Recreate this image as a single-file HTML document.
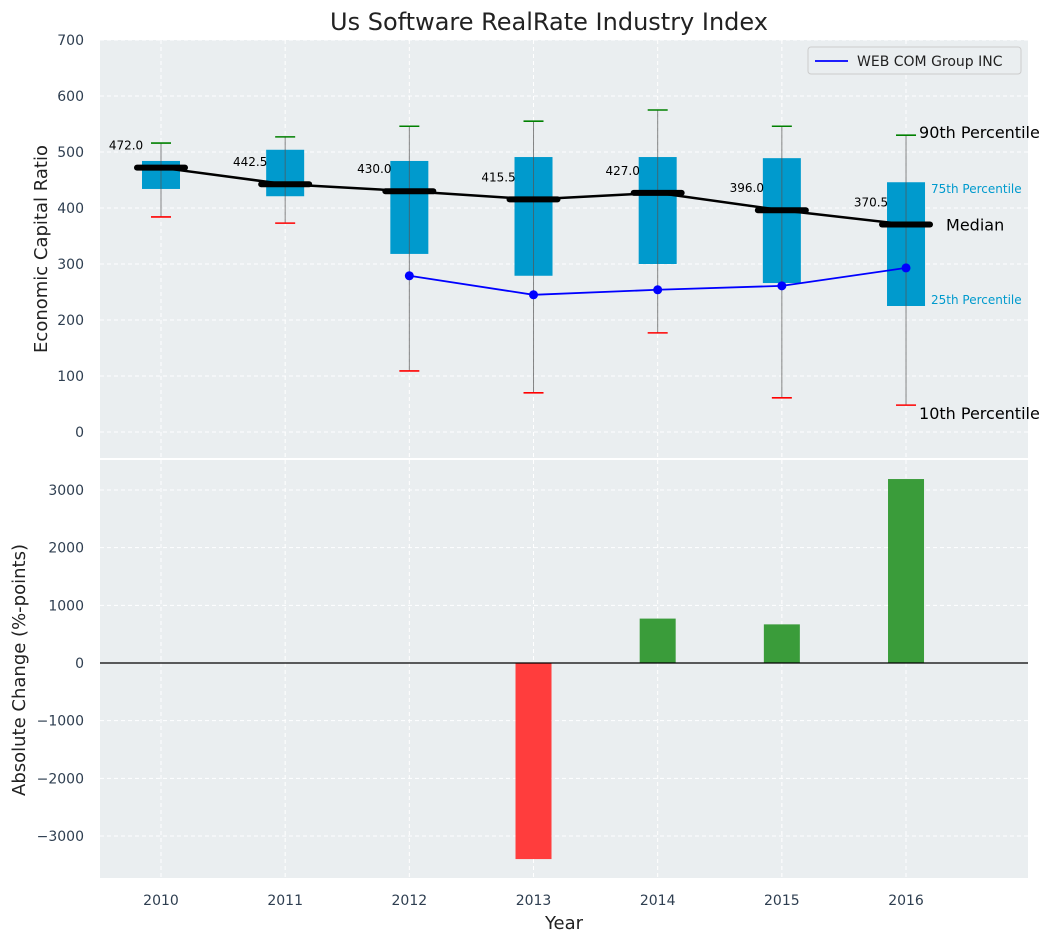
<!DOCTYPE html>
<html><head><meta charset="utf-8"><style>
body{margin:0;background:#fff;font-family:"Liberation Sans","DejaVu Sans",sans-serif}
svg text{font-family:"DejaVu Sans","Liberation Sans",sans-serif}
</style></head><body>
<svg id="c" width="1054" height="942" xmlns="http://www.w3.org/2000/svg"></svg>
<script>
const years=["2010","2011","2012","2013","2014","2015","2016"];
const p10=[384,373,109,70,177,61,48];
const p25=[434,421,318,279,300,266,225];
const median=[472.0,442.5,430.0,415.5,427.0,396.0,370.5];
const p75=[484,504,484,491,491,489,446];
const p90=[516,527,546,555,575,546,530];
const companyYears=[2,3,4,5,6];
const companyVals=[279,245,254,261,293];
const changeVals=[0,0,0,-3400,770,670,3190];
const topTicks=[0,100,200,300,400,500,600,700];
const botTicks=[-3000,-2000,-1000,0,1000,2000,3000];

const svg=document.getElementById('c');const NS='http://www.w3.org/2000/svg';
function el(t,a,p){const e=document.createElementNS(NS,t);for(const k in a)e.setAttribute(k,a[k]);(p||svg).appendChild(e);return e;}
function tx(x,y,s,a,p){const e=el('text',Object.assign({x:x,y:y},a),p);e.textContent=s;return e;}
const X=i=>161+i*124.17;
const L=100,R=1028;
const YT=v=>432-v*0.56;
const YB=v=>663-v*0.05767;

// panels
let g=el('rect',{x:L,y:40,width:R-L,height:418,fill:'#eaeef0'});

g=el('rect',{x:L,y:460,width:R-L,height:418,fill:'#eaeef0'});

// grids
for(let i=0;i<7;i++){el('line',{x1:X(i),x2:X(i),y1:40,y2:458,stroke:'#fff','stroke-dasharray':'4,3'});el('line',{x1:X(i),x2:X(i),y1:460,y2:878,stroke:'#fff','stroke-dasharray':'4,3'});}
topTicks.forEach(v=>{el('line',{x1:L,x2:R,y1:YT(v),y2:YT(v),stroke:'#fff','stroke-dasharray':'4,3'});
 const t=tx(L-16,YT(v)+5,String(v),{'font-size':14,fill:'#2e3e50','text-anchor':'end'});
 });
botTicks.forEach(v=>{el('line',{x1:L,x2:R,y1:YB(v),y2:YB(v),stroke:'#fff','stroke-dasharray':'4,3'});
 const t=tx(L-16,YB(v)+5,String(v).replace('-','\u2212'),{'font-size':14,fill:'#2e3e50','text-anchor':'end'});
 });
years.forEach((y,i)=>{const t=tx(X(i),905,y,{'font-size':14,fill:'#2e3e50','text-anchor':'middle'});
 });

// boxes
years.forEach((y,i)=>{
 const b=el('rect',{x:X(i)-19,y:YT(p75[i]),width:38,height:YT(p25[i])-YT(p75[i]),fill:'#009acd'});
 
 el('line',{x1:X(i),x2:X(i),y1:YT(p90[i]),y2:YT(p10[i]),stroke:'#555','stroke-width':1,opacity:0.7});
 const c1=el('line',{x1:X(i)-10,x2:X(i)+10,y1:YT(p90[i]),y2:YT(p90[i]),stroke:'green','stroke-width':1.6});
 
 const c2=el('line',{x1:X(i)-10,x2:X(i)+10,y1:YT(p10[i]),y2:YT(p10[i]),stroke:'red','stroke-width':1.6});
 
});
let pts=median.map((v,i)=>X(i)+','+YT(v)).join(' ');
g=el('polyline',{points:pts,fill:'none',stroke:'#000','stroke-width':2.5});

median.forEach((v,i)=>{
 const m=el('line',{x1:X(i)-24,x2:X(i)+24,y1:YT(v),y2:YT(v),stroke:'#000','stroke-width':6,'stroke-linecap':'round'});
 
 const t=tx(X(i)-35,YT(v)-18,v.toFixed(1),{'font-size':12,fill:'#000','text-anchor':'middle'});
 
});
pts=companyYears.map((k,j)=>X(k)+','+YT(companyVals[j])).join(' ');
g=el('polyline',{points:pts,fill:'none',stroke:'#0000ff','stroke-width':1.8});

companyYears.forEach((k,j)=>{const c=el('circle',{cx:X(k),cy:YT(companyVals[j]),r:4.5,fill:'#0000ff'});
 });
// annotations for last year
const li=6;
[['90th Percentile',X(li)+13,YT(p90[li])+3,16,'#000'],['75th Percentile',X(li)+25,YT(p75[li])+11,12,'#009acd'],
 ['Median',X(li)+40,YT(median[li])+6,16,'#000'],['25th Percentile',X(li)+25,YT(p25[li])-2,12,'#009acd'],
 ['10th Percentile',X(li)+13,YT(p10[li])+14,16,'#000']].forEach(a=>{
 const t=tx(a[1],a[2],a[0],{'font-size':a[3],fill:a[4]});
 });
// legend
g=el('g',{});
el('rect',{x:808,y:47,width:213,height:27,rx:3,fill:'#eaeef0',stroke:'#ccc'},g);
el('line',{x1:815,x2:848,y1:61,y2:61,stroke:'#0000ff','stroke-width':1.8},g);
tx(857,66,'WEB COM Group INC',{'font-size':14,fill:'#222'},g);

// bars
changeVals.forEach((v,i)=>{if(v===0)return;
 const b=el('rect',{x:X(i)-18,y:Math.min(YB(v),YB(0)),width:36,height:Math.abs(YB(v)-YB(0)),fill:v<0?'#ff3d3d':'#3a9c3a'});
 });
el('line',{x1:L,x2:R,y1:YB(0),y2:YB(0),stroke:'#000','stroke-width':1.2});

// titles
let t=tx(549,30,'Us Software RealRate Industry Index',{'font-size':24,fill:'#222','text-anchor':'middle'});

t=tx(47,249,'Economic Capital Ratio',{'font-size':18,fill:'#222','text-anchor':'middle',transform:'rotate(-90 47 249)'});

t=tx(25,670,'Absolute Change (%-points)',{'font-size':18,fill:'#222','text-anchor':'middle',transform:'rotate(-90 25 670)'});

t=tx(564,929,'Year',{'font-size':18,fill:'#222','text-anchor':'middle'});

</script>
</body></html>
